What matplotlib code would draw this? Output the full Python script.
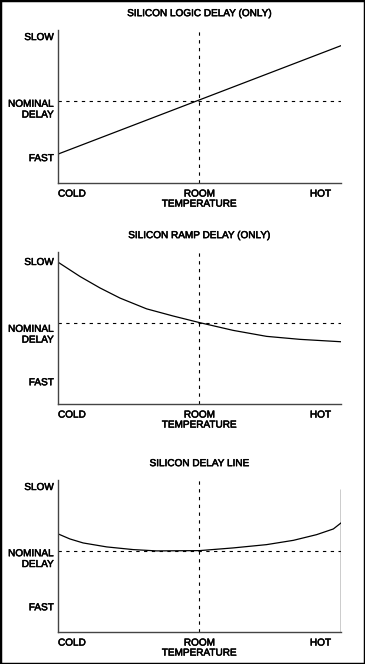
import matplotlib.pyplot as plt
import matplotlib.patheffects as pe
from matplotlib.patches import Rectangle
from matplotlib.text import Text

# temperature axis: 0 = cold, 0.5 = room, 1 = hot
# delay axis: 0 = nominal, + slower, - faster
logic_temp = [0.0, 1.0]
logic_delay = [-0.88, 0.92]

ramp_temp = [0.0, 0.078, 0.148, 0.219, 0.313, 0.407, 0.5, 0.619, 0.737, 0.855, 1.0]
ramp_delay = [1.01, 0.77, 0.58, 0.41, 0.23, 0.11, 0.0, -0.13, -0.23, -0.28, -0.32]

line_temp = [0.0, 0.042, 0.089, 0.172, 0.266, 0.349, 0.5, 0.619, 0.737, 0.832, 0.914, 0.973, 1.0]
line_delay = [0.28, 0.195, 0.128, 0.062, 0.017, -0.005, 0.0, 0.045, 0.10, 0.172, 0.267, 0.362, 0.462]

titles = ["SILICON LOGIC DELAY (ONLY)", "SILICON RAMP DELAY (ONLY)", "SILICON DELAY LINE"]
ytick_labels = ["FAST", "NOMINAL\nDELAY", "SLOW"]
# label positions (delay units) for each panel
ytick_pos = [[-0.93, -0.11, 1.08], [-0.98, -0.17, 1.03], [-0.93, -0.11, 1.08]]

plt.rcParams['font.family'] = ['Liberation Sans', 'DejaVu Sans']
FS = 7.2

fig = plt.figure(figsize=(3.65, 6.64), dpi=100)

# axes boxes in figure fractions
boxes = [
    [0.1589, 0.7244, 0.7753, 0.2304],
    [0.1589, 0.3916, 0.7753, 0.2289],
    [0.1589, 0.0482, 0.7753, 0.2289],
]
curves = [(logic_temp, logic_delay), (ramp_temp, ramp_delay), (line_temp, line_delay)]

for i in range(3):
    ax = fig.add_axes(boxes[i])
    x, y = curves[i]
    ax.plot(x, y, color='black', lw=0.9)
    ax.set_xlim(0, 1)
    ax.set_ylim(-1.36, 1.18)

    # nominal / room reference lines
    ax.axhline(0, color='black', lw=0.8, ls=(0, (3, 4)))
    ax.axvline(0.5, color='black', lw=0.8, ls=(0, (3, 4)))

    for s in ['top', 'right']:
        ax.spines[s].set_visible(False)
    for s in ['left', 'bottom']:
        ax.spines[s].set_color('#444444')
        ax.spines[s].set_linewidth(1.0)

    if i == 2:
        # right edge line for the delay line panel
        ax.vlines(1.0, -1.36, 1.03, color='black', lw=1.0)

    ax.set_yticks(ytick_pos[i])
    ax.set_yticklabels(ytick_labels, fontsize=FS, ha='right', linespacing=1.1)
    ax.tick_params(axis='y', length=0, pad=3)

    ax.set_xticks([0.0, 0.5, 0.965])
    ax.set_xticklabels(["COLD", "ROOM\nTEMPERATURE", "HOT"], fontsize=FS, linespacing=1.0)
    ax.tick_params(axis='x', length=0, pad=4)
    xl = ax.get_xticklabels()
    xl[0].set_ha('left')
    xl[2].set_ha('right')

    ax.set_title(titles[i], fontsize=FS, pad=10)

# slightly heavier text, like the scanned original
for t in fig.findobj(Text):
    t.set_path_effects([pe.withStroke(linewidth=0.4, foreground='black')])

# outer frame
fig.patches.append(Rectangle((0, 0), 1, 1, transform=fig.transFigure,
                             fill=False, edgecolor='black', lw=2.5))

fig.savefig("out.png", dpi=100)
